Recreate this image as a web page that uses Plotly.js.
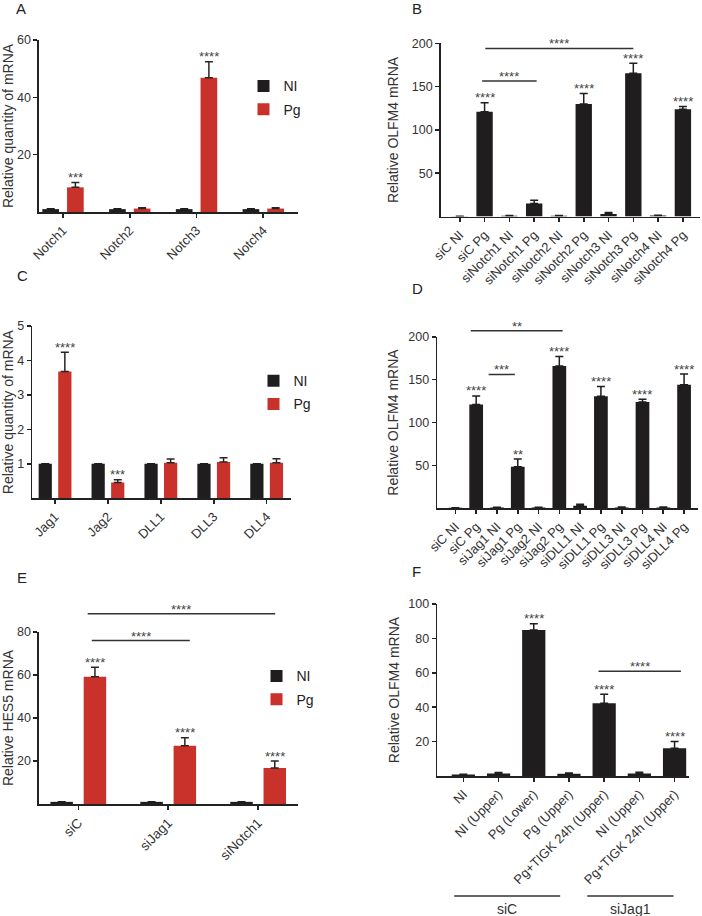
<!DOCTYPE html>
<html><head><meta charset="utf-8">
<script src="https://cdn.plot.ly/plotly-3.0.1.min.js"></script>
<style>html,body{margin:0;padding:0;background:#fff}#chart{width:702px;height:916px}</style>
</head><body><div id="chart"></div>
<script>
// ---------- Panel A ----------
const aGenes = ['Notch1', 'Notch2', 'Notch3', 'Notch4'];
const aNI = [1, 1, 1, 1];
const aNIErr = [0.1, 0.1, 0.1, 0.1];
const aPg = [8.6, 1.2, 46.8, 1.2];
const aPgErr = [1.7, 0.3, 5.6, 0.3];
const aPgStars = ['***', '', '****', ''];

// ---------- Panel B ----------
const bLabels = ['siC NI', 'siC Pg', 'siNotch1 NI', 'siNotch1 Pg', 'siNotch2 NI', 'siNotch2 Pg', 'siNotch3 NI', 'siNotch3 Pg', 'siNotch4 NI', 'siNotch4 Pg'];
const bVals = [0.3, 121, 1, 15, 1, 130, 3, 165.5, 1.2, 124];
const bErr = [0, 10.5, 0.3, 4, 0.3, 12, 1.8, 11.5, 0.5, 3];
const bStars = ['', '****', '', '', '', '****', '', '****', '', '****'];
const bBracketFrom = [0.9, 1.03];
const bBracketTo = [3.1, 7.0];
const bBracketY = [156.6, 194];
const bBracketText = ['****', '****'];

// ---------- Panel C ----------
const cGenes = ['Jag1', 'Jag2', 'DLL1', 'DLL3', 'DLL4'];
const cNI = [1, 1, 1, 1, 1];
const cNIErr = [0, 0, 0, 0, 0];
const cPg = [3.68, 0.46, 1.03, 1.05, 1.03];
const cPgErr = [0.56, 0.08, 0.11, 0.13, 0.12];
const cPgStars = ['****', '***', '', '', ''];

// ---------- Panel D ----------
const dLabels = ['siC NI', 'siC Pg', 'siJag1 NI', 'siJag1 Pg', 'siJag2 NI', 'siJag2 Pg', 'siDLL1 NI', 'siDLL1 Pg', 'siDLL3 NI', 'siDLL3 Pg', 'siDLL4 NI', 'siDLL4 Pg'];
const dVals = [0.5, 121, 1, 48.4, 1, 165.8, 3, 130.6, 1, 124, 1, 144];
const dErr = [0, 10, 0.3, 9, 0.3, 11.2, 1.8, 11.4, 0.4, 3, 0.4, 12.5];
const dStars = ['', '****', '', '**', '', '****', '', '****', '', '****', '', '****'];
const dBracketFrom = [1.6, 0.74];
const dBracketTo = [2.86, 5.16];
const dBracketY = [156, 207];
const dBracketText = ['***', '**'];

// ---------- Panel E ----------
const eGroups = ['siC', 'siJag1', 'siNotch1'];
const eNI = [1, 1, 1];
const eNIErr = [0, 0, 0];
const ePg = [59.2, 27.1, 16.7];
const ePgErr = [4.4, 3.7, 3.3];
const ePgStars = ['****', '****', '****'];
const eBracketFrom = [0.15, 0.104];
const eBracketTo = [1.24, 2.19];
const eBracketY = [76, 88.5];
const eBracketText = ['****', '****'];

// ---------- Panel F ----------
const fLabels = ['NI', 'NI (Upper)', 'Pg (Lower)', 'Pg (Upper)', 'Pg+TIGK 24h (Upper)', 'NI (Upper)', 'Pg+TIGK 24h (Upper)'];
const fVals = [0.8, 1.5, 84.9, 1.3, 42.3, 1.5, 16.1];
const fErr = [0.2, 0.5, 3.6, 0.5, 5.2, 0.7, 3.9];
const fStars = ['', '', '****', '', '****', '', '****'];
const fBracketFrom = [3.84];
const fBracketTo = [6.18];
const fBracketY = [60.9];
const fBracketText = ['****'];
const fGroupNames = ['siC', 'siJag1'];
const fGroupFrom = [-0.26, 3.52];
const fGroupTo = [2.75, 5.97];

// ---------- styling ----------
const FONT = 'Arial, "Liberation Sans", sans-serif';
const NI_COLOR = '#1f1d1e';
const PG_COLOR = '#c8322a';
const ERR_COLOR = '#2b2424';
const W = 702, H = 916;
const BAR_W = 0.25, NI_OFF = -0.31, PG_OFF = 0.06, PG_CENTER = 0.185;
const idx = arr => arr.map((_, i) => i);
const zeros = arr => arr.map(() => 0);
const px = v => v / W;
const py = v => 1 - v / H;

function errBar(arr, color) {
  return {type: 'data', symmetric: false, array: arr, arrayminus: zeros(arr), color: color, thickness: 1.5, width: 4, visible: true};
}

function xAx(d0, d1, r, labels, anchor, fontSize) {
  return {
    domain: [px(d0), px(d1)], range: r, anchor: anchor,
    tickmode: 'array', tickvals: idx(labels), ticktext: labels,
    tickangle: -45, showline: true, linecolor: '#222', linewidth: 1.6,
    ticks: 'outside', ticklen: 4, tickwidth: 1.6, tickcolor: '#222',
    showgrid: false, zeroline: false, fixedrange: true, automargin: false,
    tickfont: {family: FONT, size: fontSize || 13, color: '#333'}
  };
}
function yAx(top, bottom, r, ticks, title, standoff, anchor) {
  return {
    domain: [py(bottom), py(top)], range: r, anchor: anchor,
    tickmode: 'array', tickvals: ticks,
    showline: true, linecolor: '#222', linewidth: 1.6,
    ticks: 'outside', ticklen: 4, tickwidth: 1.6, tickcolor: '#222',
    showgrid: false, zeroline: false, fixedrange: true, automargin: false,
    tickfont: {family: FONT, size: 12.5, color: '#333'},
    title: {text: title, font: {family: FONT, size: 14, color: '#333'}, standoff: standoff}
  };
}

const layout = {
  width: W, height: H,
  margin: {l: 0, r: 0, t: 0, b: 0},
  paper_bgcolor: '#fff', plot_bgcolor: 'rgba(0,0,0,0)',
  barmode: 'overlay',
  font: {family: FONT, color: '#333'},
  xaxis:  xAx(39, 298, [-0.36, 3.52], aGenes, 'y'),
  yaxis:  yAx(40, 212, [0, 60], [20, 40, 60], 'Relative quantity of mRNA', 4, 'x'),
  xaxis2: xAx(440.7, 700, [-0.77, 9.69], bLabels, 'y2'),
  yaxis2: yAx(43.3, 216.6, [0, 200], [50, 100, 150, 200], 'Relative OLFM4 mRNA', 10, 'x2'),
  xaxis3: xAx(32.3, 291, [-0.43, 4.46], cGenes, 'y3'),
  yaxis3: yAx(326, 498.3, [0, 5], [1, 2, 3, 4, 5], 'Relative quantity of mRNA', 5, 'x3'),
  xaxis4: xAx(437.3, 698, [-0.87, 11.67], dLabels, 'y4'),
  yaxis4: yAx(336.7, 508.3, [0, 200], [50, 100, 150, 200], 'Relative OLFM4 mRNA', 6, 'x4'),
  xaxis5: xAx(39, 297.7, [-0.437, 2.44], eGroups, 'y5', 13.5),
  yaxis5: yAx(632, 804, [0, 80], [20, 40, 60, 80], 'Relative HES5 mRNA', 4, 'x5'),
  xaxis6: xAx(437.3, 689, [-0.74, 6.41], fLabels, 'y6'),
  yaxis6: yAx(604, 776, [0, 100], [20, 40, 60, 80, 100], 'Relative OLFM4 mRNA', 5, 'x6'),
  showlegend: true,
  legend:  {x: px(243.5), y: py(70.4), xanchor: 'left', yanchor: 'top', bgcolor: 'rgba(0,0,0,0)', font: {family: FONT, size: 14, color: '#222'}, traceorder: 'grouped', tracegroupgap: 2},
  legend2: {x: px(253.5), y: py(365.1), xanchor: 'left', yanchor: 'top', bgcolor: 'rgba(0,0,0,0)', font: {family: FONT, size: 14, color: '#222'}, traceorder: 'grouped', tracegroupgap: 2},
  legend3: {x: px(256.5), y: py(660.4), xanchor: 'left', yanchor: 'top', bgcolor: 'rgba(0,0,0,0)', font: {family: FONT, size: 14, color: '#222'}, traceorder: 'grouped', tracegroupgap: 2},
  annotations: [], shapes: []
};

function paperY(axis, v) {
  const d = axis.domain, r = axis.range;
  return d[0] + (v - r[0]) / (r[1] - r[0]) * (d[1] - d[0]);
}

const starFont = {family: FONT, size: 13, color: '#444'};
function addStars(xref, yaxis, vals, errs, stars, shift) {
  stars.forEach((s, i) => {
    if (!s) return;
    layout.annotations.push({xref: xref, yref: 'paper', x: i + shift, y: paperY(yaxis, vals[i] + errs[i]),
      text: s, showarrow: false, yanchor: 'middle', xanchor: 'center', yshift: 5, font: starFont});
  });
}
function addBrackets(xref, yaxis, from, to, ys, texts) {
  from.forEach((f, i) => {
    const yp = paperY(yaxis, ys[i]);
    layout.shapes.push({type: 'line', xref: xref, yref: 'paper', x0: f, x1: to[i], y0: yp, y1: yp, line: {color: '#333', width: 1.5}});
    layout.annotations.push({xref: xref, yref: 'paper', x: (f + to[i]) / 2, y: yp, text: texts[i], showarrow: false,
      yanchor: 'middle', xanchor: 'center', yshift: 4.5, font: starFont});
  });
}

addStars('x', layout.yaxis, aPg, aPgErr, aPgStars, PG_CENTER);
addStars('x2', layout.yaxis2, bVals, bErr, bStars, 0);
addBrackets('x2', layout.yaxis2, bBracketFrom, bBracketTo, bBracketY, bBracketText);
addStars('x3', layout.yaxis3, cPg, cPgErr, cPgStars, PG_CENTER);
addStars('x4', layout.yaxis4, dVals, dErr, dStars, 0);
addBrackets('x4', layout.yaxis4, dBracketFrom, dBracketTo, dBracketY, dBracketText);
addStars('x5', layout.yaxis5, ePg, ePgErr, ePgStars, PG_CENTER);
addBrackets('x5', layout.yaxis5, eBracketFrom, eBracketTo, eBracketY, eBracketText);
addStars('x6', layout.yaxis6, fVals, fErr, fStars, 0);
addBrackets('x6', layout.yaxis6, fBracketFrom, fBracketTo, fBracketY, fBracketText);

// group lines under panel F
fGroupNames.forEach((g, i) => {
  layout.shapes.push({type: 'line', xref: 'x6', yref: 'paper', x0: fGroupFrom[i], x1: fGroupTo[i], y0: py(896), y1: py(896), line: {color: '#333', width: 1.5}});
  layout.annotations.push({xref: 'x6', yref: 'paper', x: (fGroupFrom[i] + fGroupTo[i]) / 2, y: py(909), text: g, showarrow: false,
    yanchor: 'middle', xanchor: 'center', font: {family: FONT, size: 14, color: '#333'}});
});

// panel letters
[['A', 21, 8], ['B', 417, 8], ['C', 22, 276], ['D', 417, 288], ['E', 22, 577], ['F', 416, 571]].forEach(([t, x, y]) => {
  layout.annotations.push({xref: 'paper', yref: 'paper', x: px(x), y: py(y), text: t, showarrow: false,
    xanchor: 'center', yanchor: 'middle', font: {family: FONT, size: 15, color: '#222'}});
});

function groupedPair(labels, ni, niErr, pg, pgErr, xa, ya, legendId, tag) {
  return [
    {type: 'bar', name: 'NI', x: idx(labels), y: ni, width: BAR_W, offset: NI_OFF, xaxis: xa, yaxis: ya,
     marker: {color: NI_COLOR, line: {width: 0}}, error_y: errBar(niErr, NI_COLOR),
     legend: legendId, legendgroup: tag + 'NI', hoverinfo: 'y'},
    {type: 'bar', name: 'Pg', x: idx(labels), y: pg, width: BAR_W, offset: PG_OFF, xaxis: xa, yaxis: ya,
     marker: {color: PG_COLOR, line: {width: 0}}, error_y: errBar(pgErr, ERR_COLOR),
     legend: legendId, legendgroup: tag + 'Pg', hoverinfo: 'y'}
  ];
}
function single(labels, vals, errs, xa, ya) {
  return {type: 'bar', x: idx(labels), y: vals, width: 0.66, xaxis: xa, yaxis: ya, showlegend: false,
    marker: {color: NI_COLOR, line: {width: 0}}, error_y: errBar(errs, NI_COLOR), hoverinfo: 'y'};
}

const data = [
  ...groupedPair(aGenes, aNI, aNIErr, aPg, aPgErr, 'x', 'y', 'legend', 'a'),
  single(bLabels, bVals, bErr, 'x2', 'y2'),
  ...groupedPair(cGenes, cNI, cNIErr, cPg, cPgErr, 'x3', 'y3', 'legend2', 'c'),
  single(dLabels, dVals, dErr, 'x4', 'y4'),
  ...groupedPair(eGroups, eNI, eNIErr, ePg, ePgErr, 'x5', 'y5', 'legend3', 'e'),
  single(fLabels, fVals, fErr, 'x6', 'y6')
];

Plotly.newPlot('chart', data, layout, {displayModeBar: false, staticPlot: true});
</script>
</body></html>
